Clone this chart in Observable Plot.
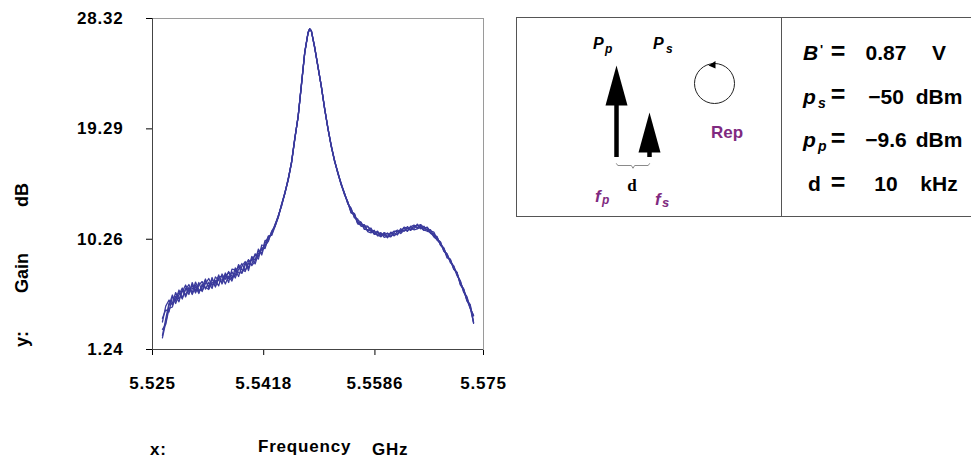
<!DOCTYPE html>
<html>
<head>
<meta charset="utf-8">
<script src="https://cdn.jsdelivr.net/npm/d3@7"></script>
<script src="https://cdn.jsdelivr.net/npm/@observablehq/plot@0.6"></script>
<style>
  html, body { margin: 0; padding: 0; background: #fff; overflow: hidden; }
  #root {
    position: relative; width: 971px; height: 466px; overflow: hidden;
    font-family: "Liberation Sans", Arial, sans-serif; font-weight: bold; color: #000;
  }
  .lbl { position: absolute; line-height: 1; white-space: nowrap; }
</style>
</head>
<body>
<div id="root"></div>
<script>
// Frequency sweep (GHz) shared by all repeated gain traces
const frequency = [
  5.5265, 5.527, 5.5275, 5.528, 5.5285, 5.529, 5.5295, 5.53, 5.5305, 5.531,
  5.5315, 5.532, 5.5325, 5.533, 5.5335, 5.534, 5.5345, 5.535, 5.5355, 5.536,
  5.5365, 5.537, 5.5375, 5.538, 5.5385, 5.539, 5.5395, 5.54, 5.5405, 5.541,
  5.5415, 5.542, 5.5425, 5.543, 5.5435, 5.544, 5.5445, 5.545, 5.5455, 5.546,
  5.5465, 5.547, 5.5475, 5.548, 5.5485, 5.54875, 5.549, 5.5495, 5.55, 5.5505,
  5.551, 5.5515, 5.552, 5.5525, 5.553, 5.5535, 5.554, 5.5545, 5.555, 5.5555,
  5.556, 5.5565, 5.557, 5.5575, 5.558, 5.5585, 5.559, 5.5595, 5.56, 5.5605,
  5.561, 5.5615, 5.562, 5.5625, 5.563, 5.5635, 5.564, 5.5645, 5.565, 5.5655,
  5.566, 5.5665, 5.567, 5.5675, 5.568, 5.5685, 5.569, 5.5695, 5.57, 5.5705,
  5.571, 5.5715, 5.572, 5.5725, 5.573, 5.5735
];

// Gain (dB) of each repeated sweep
const gainRun1 = [
  2.39, 3.74, 5.06, 5.02, 5.90, 5.36, 5.97, 6.52, 5.96, 6.49,
  5.86, 6.50, 6.80, 6.18, 6.75, 6.23, 7.18, 6.89, 6.75, 7.50,
  7.02, 7.59, 7.09, 7.81, 8.28, 7.69, 8.30, 8.18, 9.07, 8.86,
  9.57, 9.49, 10.38, 10.72, 11.46, 12.07, 13.11, 13.99, 15.20, 16.54,
  18.55, 20.25, 22.97, 25.54, 27.17, 27.48, 27.30, 26.00, 24.30, 22.81,
  20.91, 19.37, 17.89, 16.63, 15.76, 14.71, 14.04, 13.15, 12.76, 12.06,
  11.91, 11.32, 11.36, 11.34, 10.88, 11.00, 10.53, 10.75, 10.56, 10.77,
  10.50, 10.83, 11.01, 10.83, 11.21, 10.90, 11.28, 11.42, 11.20, 11.41,
  11.13, 11.26, 10.79, 10.75, 10.17, 10.01, 9.32, 9.08, 8.43, 8.05,
  7.27, 6.82, 5.97, 5.56, 4.67, 3.98
];
const gainRun2 = [
  3.79, 4.49, 4.31, 5.55, 5.23, 6.11, 5.45, 6.14, 6.56, 5.89,
  6.76, 6.12, 6.05, 6.86, 6.38, 6.98, 6.65, 7.34, 6.60, 7.20,
  7.55, 6.99, 7.91, 7.51, 7.53, 8.37, 7.93, 8.85, 8.54, 9.31,
  9.12, 10.17, 10.18, 10.87, 11.30, 12.17, 13.01, 14.09, 15.10, 16.59,
  18.45, 20.35, 22.87, 25.59, 27.17, 27.48, 27.30, 25.90, 24.40, 22.71,
  21.01, 19.27, 17.94, 16.73, 15.63, 14.84, 13.94, 13.33, 12.46, 12.36,
  11.61, 11.62, 11.06, 11.04, 11.18, 10.70, 10.83, 10.45, 10.76, 10.47,
  10.85, 10.58, 10.71, 11.13, 10.91, 11.30, 11.03, 11.12, 11.50, 11.11,
  11.33, 10.96, 11.04, 10.50, 10.42, 9.81, 9.57, 8.83, 8.58, 7.80,
  7.52, 6.57, 6.22, 5.31, 4.82, 3.48
];
const gainRun3 = [
  2.89, 3.29, 4.61, 4.72, 5.60, 5.14, 6.20, 5.69, 6.34, 5.74,
  6.38, 5.82, 6.58, 6.33, 6.15, 6.76, 6.43, 7.12, 7.27, 6.60,
  7.25, 6.84, 7.61, 8.04, 7.46, 8.14, 8.60, 8.10, 8.47, 9.46,
  8.97, 9.94, 10.48, 10.62, 11.43, 12.20, 12.98, 14.04, 15.23, 16.49,
  18.50, 20.25, 22.92, 25.49, 27.12, 27.43, 27.25, 25.95, 24.35, 22.76,
  20.96, 19.37, 17.84, 16.68, 15.63, 14.76, 13.91, 13.28, 12.41, 12.26,
  11.51, 11.42, 11.46, 10.94, 11.03, 10.65, 10.68, 10.80, 10.41, 10.52,
  10.45, 10.78, 10.61, 11.03, 10.96, 11.15, 10.98, 11.32, 11.15, 11.21,
  10.98, 11.11, 10.74, 10.60, 10.47, 9.76, 9.47, 8.73, 8.63, 7.85,
  7.57, 6.52, 6.12, 5.21, 4.92, 3.38
];
const gainRun4 = [
  3.49, 4.79, 5.29, 4.87, 5.53, 5.89, 5.37, 6.29, 5.74, 6.72,
  6.01, 6.72, 5.98, 6.63, 7.05, 6.46, 6.88, 6.44, 7.42, 6.98,
  7.62, 7.22, 7.31, 8.19, 7.76, 7.62, 8.45, 8.55, 8.99, 8.64,
  9.79, 9.72, 10.08, 10.92, 11.33, 12.12, 13.14, 14.09, 15.15, 16.59,
  18.55, 20.30, 22.97, 25.59, 27.17, 27.48, 27.30, 26.00, 24.35, 22.81,
  20.96, 19.32, 17.94, 16.63, 15.73, 14.81, 14.04, 13.18, 12.81, 12.01,
  11.81, 11.67, 11.16, 11.29, 11.08, 10.75, 10.93, 10.55, 10.81, 10.67,
  10.70, 10.93, 10.88, 10.91, 11.26, 11.15, 11.08, 11.37, 11.35, 11.46,
  11.23, 11.21, 10.94, 10.85, 10.27, 10.06, 9.27, 9.03, 8.33, 8.10,
  7.37, 6.87, 5.92, 5.46, 4.57, 4.03
];
const gainRun5 = [
  2.19, 3.44, 4.84, 5.70, 5.00, 5.74, 6.27, 5.54, 6.19, 6.19,
  6.53, 5.97, 6.35, 7.01, 6.23, 7.13, 6.35, 7.04, 6.90, 7.35,
  6.72, 7.82, 7.76, 7.21, 8.06, 8.44, 7.70, 8.70, 8.24, 9.09,
  9.42, 9.64, 10.53, 10.57, 11.28, 12.04, 13.08, 13.99, 15.10, 16.49,
  18.45, 20.35, 22.87, 25.54, 27.17, 27.48, 27.30, 25.90, 24.40, 22.76,
  20.91, 19.32, 17.84, 16.73, 15.68, 14.71, 13.99, 13.31, 12.51, 12.36,
  11.56, 11.52, 11.36, 10.89, 10.78, 10.95, 10.58, 10.50, 10.66, 10.37,
  10.75, 10.53, 10.91, 10.73, 11.01, 10.95, 11.33, 11.02, 11.10, 11.31,
  11.03, 10.91, 10.84, 10.45, 10.22, 9.86, 9.52, 8.88, 8.48, 7.90,
  7.47, 6.67, 6.17, 5.26, 4.62, 3.43
];
const gainRuns = [gainRun1, gainRun2, gainRun3, gainRun4, gainRun5];

// Axis ticks and their printed labels
const xTicks = [5.525, 5.5418, 5.5586, 5.575];
const xTickLabels = ["5.525", "5.5418", "5.5586", "5.575"];
const yTicks = [1.24, 10.26, 19.29, 28.32];
const yTickLabels = ["1.24", "10.26", "19.29", "28.32"];

// Operating point listed in the parameter box
const paramSymbols = ["B", "p", "p", "d"];
const paramIndices = ["'", "s", "p", ""];
const paramValues = ["0.87", "\u221250", "\u22129.6", "10"];
const paramUnits = ["V", "dBm", "dBm", "kHz"];

// Pump / signal tones in the schematic (relative arrow height)
const toneNames = ["p", "s"];
const toneLevels = [1, 0.49];

const FONT = '"Liberation Sans", Arial, sans-serif';
const root = document.getElementById("root");

// ---------- main gain plot ----------
const rows = gainRuns.flatMap((run, k) =>
  frequency.map((f, i) => ({run: k, f, g: run[i]}))
);

const main = Plot.plot({
  width: 500,
  height: 466,
  marginLeft: 152,
  marginRight: 17,
  marginTop: 18,
  marginBottom: 117,
  style: {
    fontFamily: FONT, fontSize: "17px", fontWeight: "bold",
    letterSpacing: "0.8px", color: "#000", background: "transparent", overflow: "visible"
  },
  x: {
    domain: [xTicks[0], xTicks[xTicks.length - 1]],
    ticks: xTicks,
    tickFormat: d => xTickLabels[xTicks.indexOf(d)],
    tickSize: 6, tickPadding: 21, label: null
  },
  y: {
    domain: [yTicks[0], yTicks[yTicks.length - 1]],
    ticks: yTicks,
    tickFormat: d => yTickLabels[yTicks.indexOf(d)],
    tickSize: 6, tickPadding: 23, label: null
  },
  marks: [
    Plot.frame({stroke: "#9a9a9a"}),
    Plot.ruleX([xTicks[0]], {stroke: "#444"}),
    Plot.ruleY([yTicks[0]], {stroke: "#444"}),
    Plot.line(rows, {x: "f", y: "g", z: "run", stroke: "#3a3a9c", strokeWidth: 1.25})
  ]
});
main.style.position = "absolute";
main.style.left = "0px";
main.style.top = "0px";
root.appendChild(main);

// ---------- text helpers ----------
function label(str, o) {
  const s = document.createElement("span");
  s.className = "lbl";
  s.textContent = str;
  const fs = o.size || 17;
  s.style.fontSize = fs + "px";
  s.style.top = (o.baseline - 0.85 * fs) + "px";
  s.style.left = (o.left != null ? o.left : o.center) + "px";
  if (o.center != null) s.style.transform = "translateX(-50%)";
  if (o.italic) s.style.fontStyle = "italic";
  if (o.color) s.style.color = o.color;
  if (o.family) s.style.fontFamily = o.family;
  if (o.spacing) s.style.letterSpacing = o.spacing;
  root.appendChild(s);
  return s;
}
function vlabel(str, o) {
  const s = document.createElement("span");
  s.className = "lbl";
  s.textContent = str;
  const fs = o.size || 18;
  s.style.fontSize = fs + "px";
  s.style.left = (o.baselineX - 0.85 * fs) + "px";
  s.style.top = o.bottom + "px";
  s.style.transformOrigin = "0 0";
  s.style.transform = "rotate(-90deg)";
  root.appendChild(s);
}

// axis titles
label("x:", {left: 150, baseline: 455, spacing: "0.8px"});
label("Frequency", {left: 258, baseline: 452, spacing: "0.8px"});
label("GHz", {left: 372, baseline: 455, spacing: "0.8px"});
vlabel("y:", {baselineX: 28, bottom: 347});
vlabel("Gain", {baselineX: 28, bottom: 293});
vlabel("dB", {baselineX: 28, bottom: 207});

// ---------- parameter box ----------
const box = document.createElement("div");
Object.assign(box.style, {
  position: "absolute", left: "516px", top: "17px", width: "470px", height: "200px",
  boxSizing: "border-box", border: "1px solid #555"
});
root.appendChild(box);
const divider = document.createElement("div");
Object.assign(divider.style, {
  position: "absolute", left: "781px", top: "17px", width: "1px", height: "200px", background: "#555"
});
root.appendChild(divider);

// schematic: pump and signal tones separated by d
const dKHz = +paramValues[3];
const tones = toneNames.map((name, i) => ({name, offset: i * dKHz, level: toneLevels[i]}));

const arrowHead = {
  draw(context) {
    context.moveTo(0, 0);
    context.lineTo(11, 40);
    context.lineTo(-11, 40);
    context.closePath();
  }
};
const loopHead = {
  draw(context) {
    context.moveTo(-4, 1);
    context.lineTo(3, -3.5);
    context.lineTo(3, 4);
    context.closePath();
  }
};
const x0 = tones[0].offset, x1 = tones[1].offset, xm = (x0 + x1) / 2;
const brace = [
  {x: x0, y: 0.02}, {x: x0 + 0.4, y: 0}, {x: xm - 0.5, y: 0}, {x: xm, y: -0.03},
  {x: xm + 0.5, y: 0}, {x: x1 - 0.4, y: 0}, {x: x1, y: 0.02}
];

const diagram = Plot.plot({
  width: 263,
  height: 198,
  margin: 0,
  style: {background: "transparent", overflow: "visible"},
  x: {domain: [x0, x1], range: [99, 132], axis: null},
  y: {domain: [0, 1], range: [139, 47], axis: null},
  marks: [
    Plot.ruleX(tones, {x: "offset", y1: "level", y2: 0, stroke: "#000", strokeWidth: 4.5, insetTop: 20}),
    Plot.dot(tones, {x: "offset", y: "level", symbol: arrowHead, fill: "#000", r: 5}),
    Plot.line(brace, {x: "x", y: "y", dy: 8, stroke: "#8a8a8a", strokeWidth: 1}),
    Plot.dot([0], {frameAnchor: "top-left", dx: 197, dy: 65, r: 20, stroke: "#222", strokeWidth: 1, fill: "none"}),
    Plot.dot([0], {frameAnchor: "top-left", dx: 195, dy: 46, symbol: loopHead, fill: "#000", r: 3})
  ]
});
diagram.style.position = "absolute";
diagram.style.left = "517px";
diagram.style.top = "18px";
root.appendChild(diagram);

const PURPLE = "#802a80";
label("P", {left: 593, baseline: 50, size: 16, italic: true});
label("p", {left: 605, baseline: 53, size: 12, italic: true});
label("P", {left: 653, baseline: 50, size: 16, italic: true});
label("s", {left: 666, baseline: 53, size: 12, italic: true});
label("f", {left: 595, baseline: 202, size: 17, italic: true, color: PURPLE});
label("p", {left: 602, baseline: 204, size: 12, italic: true, color: PURPLE});
label("f", {left: 655, baseline: 205, size: 17, italic: true, color: PURPLE});
label("s", {left: 662, baseline: 207, size: 13, italic: true, color: PURPLE});
label("d", {center: 632, baseline: 191, size: 17, family: '"Liberation Serif", "Times New Roman", serif'});
label("Rep", {left: 711, baseline: 138, size: 17, color: PURPLE});

// parameter table
const rowBaselines = [60, 103.5, 147, 191];
paramSymbols.forEach((sym, i) => {
  const b = rowBaselines[i];
  const italic = sym !== "d";
  label(sym, {left: sym === "d" ? 808 : 803, baseline: b, size: 21, italic});
  if (paramIndices[i] === "'") {
    label(paramIndices[i], {left: 820, baseline: b - 6, size: 13});
  } else if (paramIndices[i]) {
    label(paramIndices[i], {left: 818, baseline: b + 4, size: 14, italic: true});
  }
  label("=", {center: 838, baseline: b, size: 25});
  label(paramValues[i], {center: 886, baseline: b, size: 21});
  label(paramUnits[i], {center: 939, baseline: b, size: 21});
});
</script>
</body>
</html>
